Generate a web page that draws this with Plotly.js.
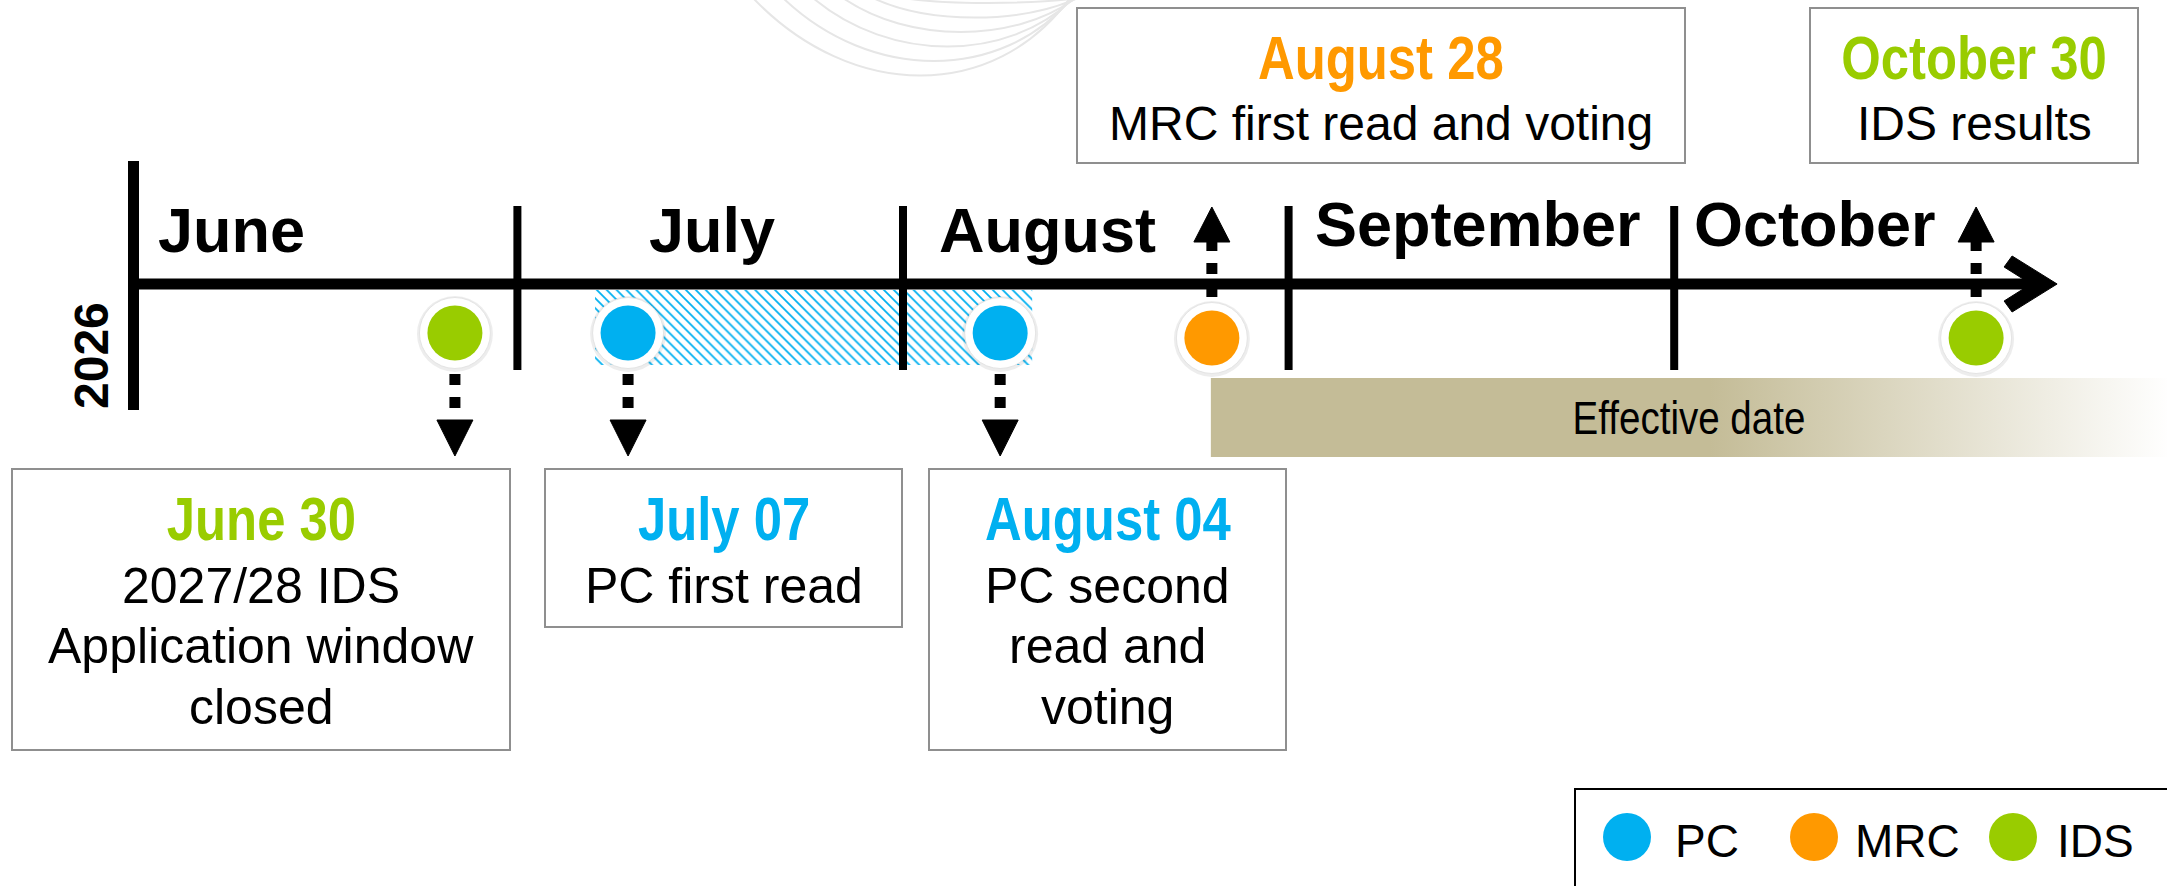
<!DOCTYPE html>
<html>
<head>
<meta charset="utf-8">
<script src="https://cdn.plot.ly/plotly-3.0.1.min.js"></script>
<style>
  html, body { margin: 0; padding: 0; background: #ffffff; }
  #chart { width: 2167px; height: 886px; }
</style>
</head>
<body>
<div id="chart"></div>
<script>
// ------------------------------------------------------------------
// DATA
// ------------------------------------------------------------------
const yearLabel = '2026';
const months = ['June', 'July', 'August', 'September', 'October'];
const monthStarts = [0, 1, 2, 3, 4];                 // timeline position of each month start (months since 1 June)
const eventDates = ['June 30', 'July 07', 'August 04', 'August 28', 'October 30'];
const eventGroups = ['IDS', 'PC', 'PC', 'MRC', 'IDS'];
const eventPositions = [0.838, 1.287, 2.252, 2.801, 4.783];  // position on the timeline, as drawn
const eventDetails = [
  ['2027/28 IDS', 'Application window', 'closed'],
  ['PC first read'],
  ['PC second', 'read and', 'voting'],
  ['MRC first read and voting'],
  ['IDS results']
];
const eventDirections = ['down', 'down', 'down', 'up', 'up'];
const groups = ['PC', 'MRC', 'IDS'];
const groupColors = ['#00B0F0', '#FF9900', '#99CC00'];
const pcWindow = ['July 07', 'August 04'];           // hatched PC period
const effectiveFrom = 'August 28';
const effectiveLabel = 'Effective date';
const timelineEnd = 4.993;

// ------------------------------------------------------------------
// LAYOUT CONSTANTS (pixels)
// ------------------------------------------------------------------
const W = 2167, H = 886;
const PX_PER_MONTH = 385.6, ORIGIN_PX = 131.8;
const mx = px => (px - ORIGIN_PX) / PX_PER_MONTH;   // pixel x -> axis x
const dm = px => px / PX_PER_MONTH;                 // pixel length -> axis length
const xRange = [mx(0), mx(W)];

const FONT = 'Liberation Sans, Arial, Helvetica, sans-serif';
const NARROW = 'Liberation Sans Narrow, Arial Narrow, Liberation Sans, Arial, sans-serif';
const NARROW_SCALE = 0.82;
const groupColor = g => groupColors[groups.indexOf(g)];

const AXIS_Y = 284;
const geo = {
  down: { circleY: 333, shaft: [374, 420], headBase: 420, headTip: 456 },
  up:   { circleY: 338, shaft: [297, 242], headBase: 242, headTip: 207 }
};
// box layout: [x0, y0, x1, y1] in pixels, one per event
const boxRects = [
  [12, 469, 510, 750],
  [545, 469, 902, 627],
  [929, 469, 1286, 750],
  [1077, 8, 1685, 163],
  [1810, 8, 2138, 163]
];
const boxText = {
  down: { title: 518, lines: [586, 646, 707], size: 50 },
  up:   { title: 57,  lines: [123], size: 48 }
};

// ------------------------------------------------------------------
// TRACES
// ------------------------------------------------------------------
const traces = [];

// hatched PC window
const iA = eventDates.indexOf(pcWindow[0]), iB = eventDates.indexOf(pcWindow[1]);
const hx0 = eventPositions[iA] - dm(33), hx1 = eventPositions[iB] + dm(32);
traces.push({
  type: 'bar', orientation: 'h',
  base: [hx0], x: [hx1 - hx0], y: [327.5], width: [75],
  marker: { color: '#ffffff', line: { width: 0 },
    pattern: { shape: '\\', fgcolor: '#00B0F0', bgcolor: '#ffffff', size: 7, solidity: 0.25, fillmode: 'replace' } },
  hoverinfo: 'skip', showlegend: false
});

// effective date gradient band
const iE = eventDates.indexOf(effectiveFrom);
const ex0 = eventPositions[iE] - dm(1), ex1 = xRange[1] + 0.01;
traces.push({
  type: 'scatter', mode: 'lines',
  x: [ex0, ex1, ex1, ex0, ex0], y: [378, 378, 457, 457, 378],
  fill: 'toself', line: { width: 0, color: 'rgba(0,0,0,0)' },
  fillgradient: { type: 'horizontal', colorscale: [[0, '#C4BC97'], [0.52, '#C4BC97'], [1, '#FFFFFF']] },
  hoverinfo: 'skip', showlegend: false
});

// month dividers
const dvx = [], dvy = [];
monthStarts.slice(1).forEach(m => { dvx.push(m, m, null); dvy.push(206, 370, null); });
traces.push({ type: 'scatter', mode: 'lines', x: dvx, y: dvy,
  line: { color: '#000', width: 8 }, hoverinfo: 'skip', showlegend: false });
// left year bar
traces.push({ type: 'scatter', mode: 'lines', x: [monthStarts[0] + dm(1.7), monthStarts[0] + dm(1.7)], y: [161, 410],
  line: { color: '#000', width: 11 }, hoverinfo: 'skip', showlegend: false });
// main axis line
traces.push({ type: 'scatter', mode: 'lines', x: [monthStarts[0], timelineEnd - dm(12)], y: [AXIS_Y, AXIS_Y],
  line: { color: '#000', width: 11 }, hoverinfo: 'skip', showlegend: false });
// chevron arrow head
const chev = [[-45, -28], [0, 0], [-45, 28], [-53, 17], [-26, 0], [-53, -17], [-45, -28]];
traces.push({ type: 'scatter', mode: 'lines',
  x: chev.map(p => timelineEnd + dm(p[0])), y: chev.map(p => AXIS_Y + p[1]),
  fill: 'toself', fillcolor: '#000', line: { color: '#000', width: 1 }, hoverinfo: 'skip', showlegend: false });

// dashed arrows + heads
const headX = [], headY = [];
eventPositions.forEach((p, i) => {
  const g = geo[eventDirections[i]];
  traces.push({ type: 'scatter', mode: 'lines', x: [p, p], y: g.shaft,
    line: { color: '#000', width: 11, dash: '11px,12px' }, hoverinfo: 'skip', showlegend: false });
  headX.push(p - dm(18), p + dm(18), p, p - dm(18), null);
  headY.push(g.headBase, g.headBase, g.headTip, g.headBase, null);
});
traces.push({ type: 'scatter', mode: 'lines', x: headX, y: headY, fill: 'toself', fillcolor: '#000',
  line: { color: '#000', width: 1 }, hoverinfo: 'skip', showlegend: false });

// event circles: shadow, white ring, coloured core
const cy = eventDirections.map(d => geo[d].circleY);
traces.push({ type: 'scatter', mode: 'markers', x: eventPositions, y: cy.map(v => v + 1),
  marker: { size: 76, color: 'rgba(0,0,0,0.07)', line: { width: 0 } }, hoverinfo: 'skip', showlegend: false });
traces.push({ type: 'scatter', mode: 'markers', x: eventPositions, y: cy,
  marker: { size: 71, color: '#ffffff', line: { width: 1, color: '#e4e4e4' } }, hoverinfo: 'skip', showlegend: false });
groups.forEach((g, gi) => {
  const idx = eventGroups.map((eg, i) => eg === g ? i : -1).filter(i => i >= 0);
  traces.push({ type: 'scatter', mode: 'markers', name: g,
    x: idx.map(i => eventPositions[i]), y: idx.map(i => cy[i]),
    text: idx.map(i => eventDates[i]),
    marker: { size: 55, color: groupColors[gi], line: { width: 0 } }, showlegend: false });
});

// custom legend markers
const legendX = [1627, 1814, 2013], legendTextX = [1673, 1853, 2055], LEGEND_Y = 837;
traces.push({ type: 'scatter', mode: 'markers', x: legendX.map(mx), y: groups.map(() => LEGEND_Y),
  marker: { size: 48, color: groupColors, line: { width: 0 } }, hoverinfo: 'skip', showlegend: false });

// ------------------------------------------------------------------
// ANNOTATIONS
// ------------------------------------------------------------------
const ann = [];
const text = (x, y, t, size, opts = {}) => ann.push(Object.assign({
  x: x, y: y, xref: 'x', yref: 'y', text: t, showarrow: false,
  xanchor: 'center', yanchor: 'middle',
  font: { family: FONT, size: size, color: '#000' }
}, opts));

// year
text(mx(91), 356, '<b>' + yearLabel + '</b>', 48, { textangle: -90 });

// month labels
const monthLabelX = [156, 712, 937, 1313, 1692];
const monthLabelAnchor = ['left', 'center', 'left', 'left', 'left'];
const monthLabelY = [230, 230, 230, 224, 224];
months.forEach((m, i) => text(mx(monthLabelX[i]), monthLabelY[i], '<b>' + m + '</b>', 63,
  { xanchor: monthLabelAnchor[i] }));

// event boxes
const shapes = [];
eventDates.forEach((d, i) => {
  const r = boxRects[i];
  shapes.push({ type: 'rect', xref: 'x', yref: 'y', x0: mx(r[0]), x1: mx(r[2]), y0: r[1], y1: r[3],
    line: { color: '#8f8f8f', width: 2 }, fillcolor: 'rgba(255,255,255,0)', layer: 'below' });
  const cx = mx((r[0] + r[2]) / 2);
  const bt = boxText[eventDirections[i]];
  text(cx, bt.title, '<b>' + d + '</b>', 62, { font: { family: NARROW, size: 62, color: groupColor(eventGroups[i]) } });
  eventDetails[i].forEach((line, li) => text(cx, bt.lines[li], line, bt.size));
});

// effective date label
text((ex0 + mx(W)) / 2, 417, effectiveLabel, 47, { font: { family: NARROW, size: 47, color: '#000' } });

// legend
shapes.push({ type: 'rect', xref: 'x', yref: 'y', x0: mx(1575), x1: mx(W + 10), y0: 789, y1: H + 10,
  line: { color: '#000', width: 2 }, fillcolor: 'rgba(255,255,255,0)', layer: 'below' });
groups.forEach((g, i) => text(mx(legendTextX[i]), 841, g, 46, { xanchor: 'left' }));

// decorative arcs at the top
for (let i = 0; i < 6; i++) {
  const sx = 753 + 30 * i, by = 76 - 14.5 * i, bx = 933 + 10 * i, ex = 1070 + 2 * i;
  const cyc = by / 0.75;
  const path = `M ${mx(sx)},-2 C ${mx(sx + (bx - sx) * 0.55)},${cyc} ${mx(bx + (ex - bx) * 0.45)},${cyc} ${mx(ex)},-2`;
  shapes.push({ type: 'path', xref: 'x', yref: 'y', path: path, line: { color: '#e6e6e6', width: 2 }, layer: 'below' });
}

const layout = {
  width: W, height: H,
  margin: { l: 0, r: 0, t: 0, b: 0, pad: 0 },
  paper_bgcolor: '#ffffff', plot_bgcolor: '#ffffff',
  showlegend: false,
  barmode: 'overlay',
  xaxis: { range: xRange, visible: false, fixedrange: true },
  yaxis: { range: [H, 0], visible: false, fixedrange: true },
  annotations: ann,
  shapes: shapes,
  font: { family: FONT }
};

// condense the "narrow" texts horizontally (no condensed face is installed)
function condenseNarrowText() {
  document.querySelectorAll('#chart .annotation-text').forEach(el => {
    const fam = (el.style.fontFamily || el.getAttribute('style') || '');
    if (fam.indexOf('Narrow') < 0) return;
    const bb = el.getBBox();
    const cxp = bb.x + bb.width / 2;
    el.setAttribute('transform', `translate(${cxp},0) scale(${NARROW_SCALE},1) translate(${-cxp},0)`);
  });
}

Plotly.newPlot('chart', traces, layout, { staticPlot: true, displayModeBar: false }).then(condenseNarrowText);
</script>
</body>
</html>
